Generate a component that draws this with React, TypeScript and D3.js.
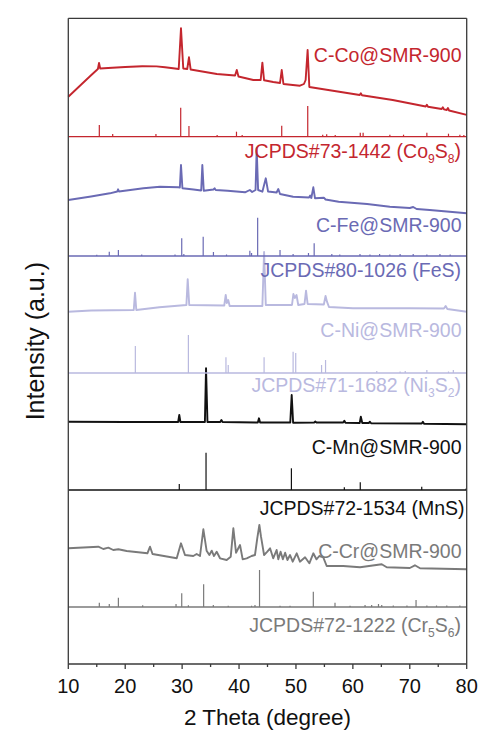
import React from "react";
import * as d3 from "d3";

// ---------- data (2θ in degrees, intensity in a.u. above each panel baseline) ----------
const sampleNames = ["C-Co@SMR-900", "C-Fe@SMR-900", "C-Ni@SMR-900", "C-Mn@SMR-900", "C-Cr@SMR-900"];
const refCards = ["JCPDS#73-1442", "JCPDS#80-1026", "JCPDS#71-1682", "JCPDS#72-1534", "JCPDS#72-1222"];
// phase formula parts: [text, subscript?]
const refPhases: [string, boolean][][] = [
  [["Co", false], ["9", true], ["S", false], ["8", true]],
  [["FeS", false]],
  [["Ni", false], ["3", true], ["S", false], ["2", true]],
  [["MnS", false]],
  [["Cr", false], ["5", true], ["S", false], ["6", true]],
];
const seriesColors = ["#c4262e", "#6a6ab4", "#b9b9df", "#111111", "#7a7a7a"];

const xTicks = [10, 20, 30, 40, 50, 60, 70, 80];
const xMinorTicks = [15, 25, 35, 45, 55, 65, 75];

const coCurve: [number, number][] = [
  [10, 40], [12, 50.7], [14, 61.5], [15.2, 67.7], [15.4, 73.7], [15.6, 68.2], [17, 68.7], [20, 69.7],
  [23, 70.5], [25.5, 70.3], [27, 69.4], [28.4, 68.4], [29.4, 67.7], [29.8, 108.4], [30.2, 68.2], [30.9, 67.7], [31.2, 79.4],
  [31.5, 67.2], [32, 66.7], [36.1, 62.7], [39.3, 61.2], [39.6, 66.7], [39.9, 60.2], [42.5, 56.7],
  [43.8, 56.7], [44.1, 74], [44.4, 56.4], [46, 54.7], [47.2, 53.7], [47.5, 66.7], [47.8, 52.7],
  [50.7, 51], [51.4, 52.7], [51.7, 56.7], [52.05, 86.7], [52.35, 49.7], [56.5, 46], [61.2, 41.7],
  [61.4, 43.4], [61.6, 41.5], [67, 36.7], [72.8, 30.2], [73, 32], [73.2, 29.9], [75.6, 27.7],
  [75.8, 29.4], [76, 27.4], [76.5, 26.7], [76.7, 28.7], [76.9, 26.2], [80, 21.9],
];
const feCurve: [number, number][] = [
  [10, 56], [14, 59.5], [17.3, 62.7], [18.6, 64.5], [18.75, 66.7], [18.9, 64.5], [23.2, 67.7],
  [26.1, 69.3], [29.3, 68.7], [29.6, 68.5], [29.8, 91], [30.05, 67.7], [32, 66.5], [33.35, 65.5],
  [33.55, 91], [33.8, 65.3], [35.5, 66.5], [35.7, 67.7], [35.9, 66], [38, 65.3], [41.05, 63.7],
  [41.9, 66], [42.3, 64], [42.9, 66], [43.1, 107.7], [43.35, 66], [44.1, 64.3], [44.7, 77.7],
  [45.1, 64.5], [46.6, 63.5], [46.9, 67], [47.2, 62], [49.5, 59.3], [52.3, 58.5], [52.5, 60.5],
  [52.7, 58], [53.05, 68.7], [53.35, 57.7], [54.9, 58.3], [55.2, 56.5], [57.5, 54.3], [62.5, 52],
  [66.5, 49.3], [70, 48], [70.6, 49], [71.2, 47], [73.5, 46], [80, 42.7],
];
const niCurve: [number, number][] = [
  [10, 61.3], [14, 62.5], [21.5, 63], [21.72, 80.3], [21.95, 63], [26, 65.7], [30.75, 68],
  [30.98, 93.7], [31.25, 68], [37.4, 67.5], [37.66, 78], [37.85, 70], [38.1, 73], [38.35, 67],
  [44.1, 67], [44.4, 121], [44.7, 68], [47, 68], [49.3, 68], [49.55, 79], [49.8, 75], [50.1, 78],
  [50.4, 68], [51.5, 69], [51.77, 82.3], [52.05, 69], [54.9, 68.5], [55.2, 77], [55.45, 71.3],
  [55.8, 66], [60, 64.7], [70, 64.7], [76, 64.5], [76.3, 67], [76.6, 64], [80, 61.3],
];
const mnCurve: [number, number][] = [
  [10, 68.3], [20, 68], [29.3, 68], [29.5, 75], [29.7, 68], [34, 68], [34.2, 121.7], [34.45, 68],
  [36.7, 68], [36.9, 70], [37.1, 68], [43.3, 67.5], [43.5, 71.7], [43.7, 67.5], [49, 67.5],
  [49.25, 95], [49.5, 67.3], [53.2, 67.5], [53.4, 68.5], [53.6, 67.5], [58.3, 67.5], [58.5, 69.3],
  [58.7, 67.3], [61.2, 67], [61.4, 73.3], [61.65, 67], [62.8, 67], [63, 68.3], [63.2, 66.8],
  [72.1, 66.5], [72.3, 68.3], [72.5, 66.2], [80, 65.7],
];
const crCurve: [number, number][] = [
  [10, 58.7], [15.27, 60.3], [16.15, 58], [17.03, 59.3], [17.9, 57], [18.8, 57.7], [20.26, 56],
  [23.9, 53.7], [24.36, 60.3], [24.8, 53], [29.05, 48.7], [29.8, 63.7], [30.5, 52], [31.96, 51],
  [32.55, 53], [33.14, 51], [33.73, 77.7], [34.3, 56.3], [34.78, 52], [35.2, 56.3], [35.6, 51],
  [36.07, 55.3], [36.66, 48.7], [37.83, 47], [38.54, 50.3], [39, 78.7], [39.47, 54.3], [40.17, 62],
  [40.64, 47.7], [41.35, 48.7], [42.2, 51], [42.8, 52], [43.2, 68.7], [43.57, 82], [43.86, 70.3],
  [44.4, 52], [44.97, 55.3], [45.45, 58.7], [46, 48.7], [46.6, 57], [46.9, 47.7], [47.3, 55.3],
  [47.7, 47.7], [48.1, 54.3], [48.5, 47], [48.96, 52], [49.43, 45.3], [50.13, 53.7], [50.7, 45.3],
  [51.6, 49.7], [52.35, 43.7], [53.05, 53.7], [53.6, 47.7], [54.1, 51], [54.8, 49.7], [55.4, 41],
  [58.3, 41], [61.26, 39.7], [65.07, 42.7], [65.95, 39.7], [70, 39], [70.9, 41.7], [71.8, 38.7],
  [75.9, 38.3], [80, 37.7],
];

const coSticks: [number, number][] = [
  [15.45, 11.7], [17.8, 2.7], [25.4, 2.7], [29.75, 29], [31.2, 10.7], [36.15, 1.8], [39.55, 5],
  [40.55, 1.8], [47.5, 11], [52.07, 30.7], [54.7, 2], [55.4, 2.4], [56.9, 1.8], [61.3, 4], [61.8, 4],
  [66.5, 2], [68.9, 2], [73, 4], [76.8, 3], [78.8, 2], [79.5, 1.8],
];
const feSticks: [number, number][] = [
  [15, 1.3], [17.2, 4.3], [18.8, 6], [22.9, 1.5], [28.75, 1.5], [29.93, 17.7], [30.3, 2],
  [33.7, 19.3], [35.5, 4], [37.8, 1.5], [41.9, 5.3], [42.2, 3], [43.27, 38.3], [47.2, 6],
  [49.5, 2], [52.2, 3], [53.2, 12.7], [56.3, 2], [57.7, 1.5], [61.25, 2], [63, 1.5], [64.7, 2],
  [66.5, 1.5], [68.3, 2], [70.6, 2], [73, 1.5], [75.3, 2], [77.1, 1.5],
];
const niSticks: [number, number][] = [
  [21.78, 27], [31.1, 38], [37.7, 15.7], [38.1, 8], [44.4, 15.7], [49.5, 21.3], [49.96, 20],
  [54.5, 8], [55.2, 13], [64.2, 2], [68.3, 1.5], [69.2, 2], [73, 3], [76.8, 1.5], [77.65, 3],
];
const mnSticks: [number, number][] = [
  [29.5, 6], [34.2, 37.3], [49.2, 21.7], [58.5, 2.7], [61.3, 7.7], [72.1, 3.3], [79.9, 1.5],
];
const crSticks: [number, number][] = [
  [15.45, 4.3], [17.2, 3], [18.8, 9.3], [23.07, 1.7], [28.93, 3], [29.93, 13.7], [31.1, 1.7],
  [33.78, 22.7], [35.48, 2], [38.1, 1.3], [42.2, 1.3], [42.8, 2], [43.6, 37], [47.2, 1.3],
  [48.96, 1.3], [53.05, 15.3], [56.86, 4.3], [59.5, 1.3], [62.14, 2], [63.3, 2], [64.5, 3],
  [65.07, 2], [67.1, 1.5], [69.5, 1.5], [71.1, 7], [73, 1.5], [74.7, 1.5], [76.5, 1.5], [78.8, 1.5],
];

const curves = [coCurve, feCurve, niCurve, mnCurve, crCurve];
const sticks = [coSticks, feSticks, niSticks, mnSticks, crSticks];

// ---------- layout ----------
const W = 483;
const H = 736;
const left = 68.3;
const right = 466.7;
const panelEdges = [18.3, 136.7, 256, 373, 490, 607, 664];
const FONT = "'Liberation Sans', Arial, sans-serif";
const FS = 19.5;
const sampleLabelY = [61.7, 231.7, 337.3, 454, 558.3];
const refLabelY = [158.3, 276.7, 391.7, 515, 631.7];
const frameColor = "#3a3a3a";

export default function App() {
  const x = d3.scaleLinear().domain([10, 80]).range([left, right]);
  const yFor = (i: number) =>
    d3.scaleLinear().domain([0, 100]).range([panelEdges[i + 1], panelEdges[i + 1] - 100]);

  return (
    <div style={{ position: "fixed", left: 0, top: 0, width: W, height: H, background: "#fff" }}>
      <svg width={W} height={H} style={{ display: "block" }} fontFamily={FONT}>
        {curves.map((c, i) => {
          const y = yFor(i);
          const line = d3
            .line<[number, number]>()
            .x((d) => x(d[0]))
            .y((d) => y(d[1]));
          return (
            <g key={"s" + i}>
              {sticks[i].map((s, j) => (
                <line
                  key={j}
                  x1={x(s[0])}
                  x2={x(s[0])}
                  y1={y(0)}
                  y2={y(s[1])}
                  stroke={seriesColors[i]}
                  strokeWidth={1.2}
                />
              ))}
              <path
                d={line(c) || ""}
                fill="none"
                stroke={seriesColors[i]}
                strokeWidth={1.9}
                strokeLinejoin="round"
              />
            </g>
          );
        })}

        {seriesColors.map((col, i) => (
          <line
            key={"sep" + i}
            x1={left}
            x2={right}
            y1={panelEdges[i + 1]}
            y2={panelEdges[i + 1]}
            stroke={col}
            strokeWidth={1.3}
          />
        ))}
        <line x1={left} x2={right} y1={panelEdges[0]} y2={panelEdges[0]} stroke={frameColor} strokeWidth={1.3} />
        <line x1={left} x2={right} y1={panelEdges[6]} y2={panelEdges[6]} stroke={frameColor} strokeWidth={1.3} />
        <line x1={left} x2={left} y1={panelEdges[0]} y2={panelEdges[6]} stroke={frameColor} strokeWidth={1.3} />
        <line x1={right} x2={right} y1={panelEdges[0]} y2={panelEdges[6]} stroke={frameColor} strokeWidth={1.3} />

        {sampleNames.map((n, i) => (
          <text
            key={"sl" + i}
            x={461.5}
            y={sampleLabelY[i]}
            textAnchor="end"
            fontSize={FS}
            fill={seriesColors[i]}
          >
            {n}
          </text>
        ))}
        {refCards.map((c, i) => (
          <text
            key={"rl" + i}
            x={i === 3 ? 464.5 : 461}
            y={refLabelY[i]}
            textAnchor="end"
            fontSize={FS}
            fill={seriesColors[i]}
          >
            {c + " ("}
            {refPhases[i].map((p, k) =>
              p[1] ? (
                <tspan key={k} fontSize={FS * 0.62} dy={5}>
                  {p[0]}
                </tspan>
              ) : (
                <tspan key={k} dy={k > 0 && refPhases[i][k - 1][1] ? -5 : 0}>
                  {p[0]}
                </tspan>
              )
            )}
            <tspan dy={refPhases[i][refPhases[i].length - 1][1] ? -5 : 0}>)</tspan>
          </text>
        ))}

        {xTicks.map((t) => (
          <g key={"t" + t}>
            <line x1={x(t)} x2={x(t)} y1={panelEdges[6]} y2={panelEdges[6] + 5} stroke={frameColor} strokeWidth={1.3} />
            <text x={x(t)} y={692.5} textAnchor="middle" fontSize={20} fill="#111">
              {t}
            </text>
          </g>
        ))}
        {xMinorTicks.map((t) => (
          <line key={"m" + t} x1={x(t)} x2={x(t)} y1={panelEdges[6]} y2={panelEdges[6] + 3} stroke={frameColor} strokeWidth={1.3} />
        ))}
        <text x={(left + right) / 2} y={725} textAnchor="middle" fontSize={22.5} fill="#111">
          2 Theta (degree)
        </text>
        <text
          transform={`translate(44,${(panelEdges[0] + panelEdges[6]) / 2}) rotate(-90)`}
          textAnchor="middle"
          fontSize={25}
          fill="#111"
        >
          Intensity (a.u.)
        </text>
      </svg>
    </div>
  );
}
